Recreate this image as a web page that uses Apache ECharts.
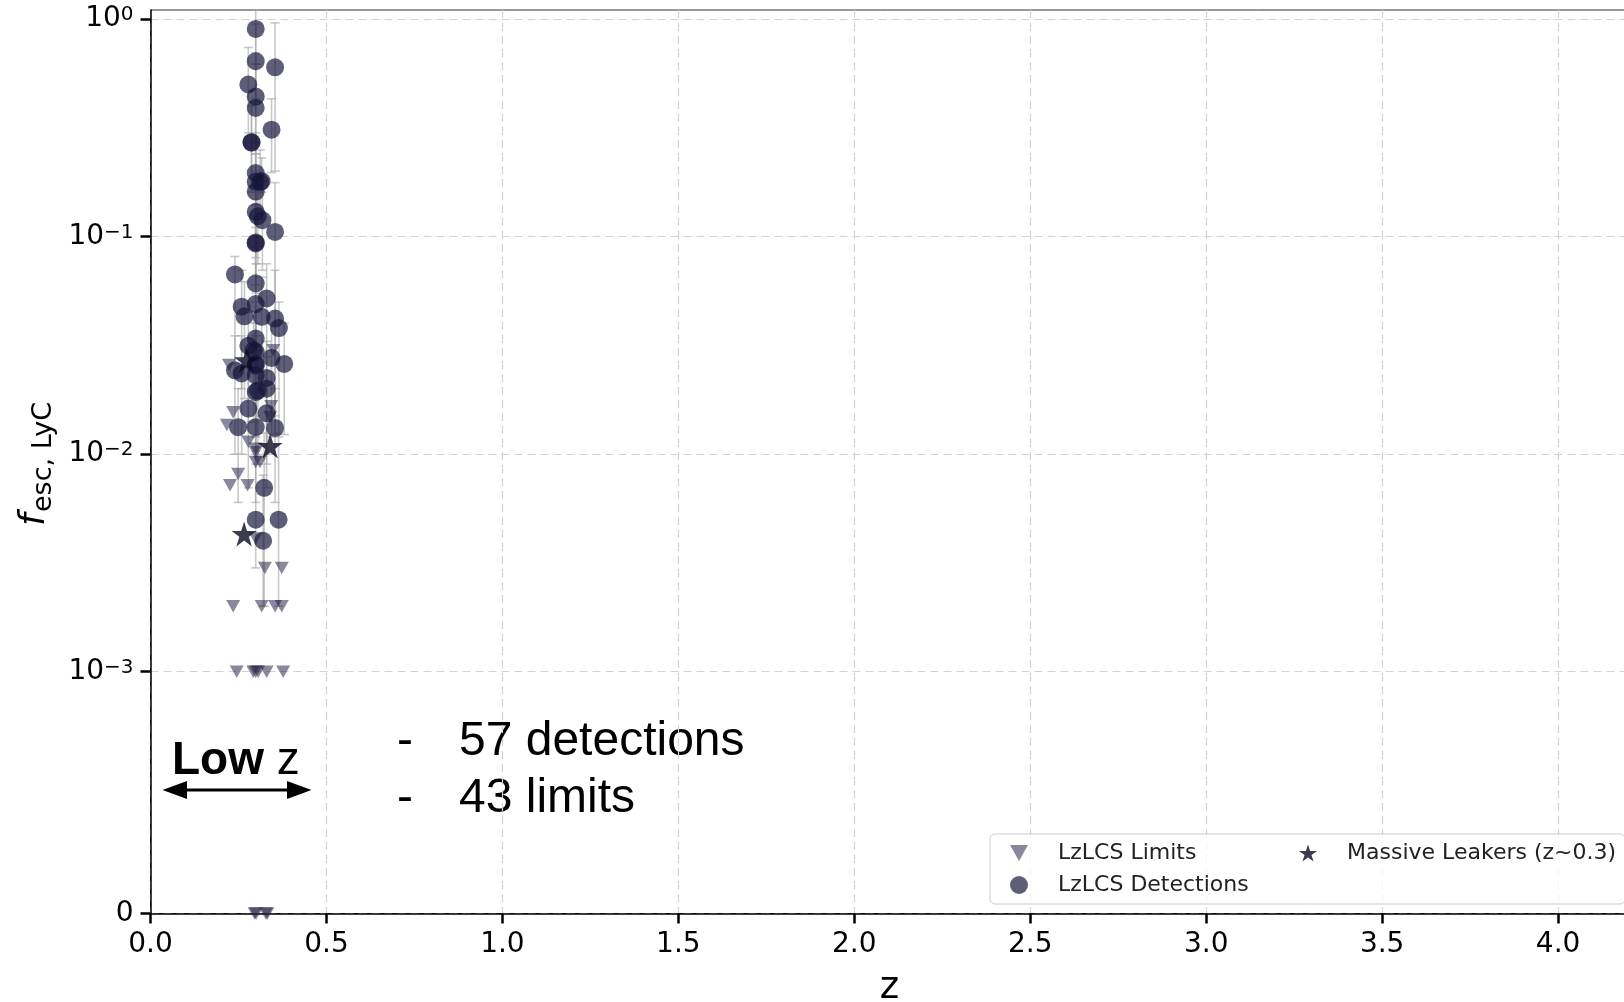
<!DOCTYPE html>
<html>
<head>
<meta charset="utf-8">
<script src="https://cdn.jsdelivr.net/npm/echarts@6/dist/echarts.min.js"></script>
<style>
  html, body { margin: 0; padding: 0; background: #ffffff; }
  #chart { width: 1624px; height: 1002px; }
</style>
</head>
<body>
<div id="chart"></div>
<script>
// LzLCS detections: redshift, escape fraction and error-bar ends
const detZ  = [0.299, 0.299, 0.354, 0.278, 0.299, 0.299, 0.344, 0.287, 0.299, 0.316,
               0.299, 0.299, 0.299, 0.305, 0.318, 0.354, 0.299, 0.240, 0.299, 0.330,
               0.259, 0.299, 0.267, 0.316, 0.354, 0.365, 0.299, 0.278, 0.299, 0.344,
               0.380, 0.299, 0.240, 0.259, 0.299, 0.330, 0.299, 0.330, 0.278, 0.330,
               0.249, 0.299, 0.354, 0.323, 0.299, 0.364, 0.320,
               0.287, 0.312, 0.299, 0.299, 0.293, 0.305];
const detF  = [0.90, 0.64, 0.60, 0.50, 0.44, 0.39, 0.31, 0.27, 0.196, 0.18,
               0.179, 0.161, 0.130, 0.124, 0.119, 0.105, 0.093, 0.067, 0.061, 0.052,
               0.0476, 0.049, 0.043, 0.0428, 0.042, 0.038, 0.034, 0.0315, 0.0295, 0.0277,
               0.026, 0.026, 0.0243, 0.0235, 0.023, 0.0224, 0.0193, 0.020, 0.0162, 0.0154,
               0.0133, 0.0133, 0.0132, 0.0070, 0.0050, 0.0050, 0.0040,
               0.272, 0.178, 0.094, 0.0255, 0.030, 0.0196];
const detLo = [0.62, 0.43, 0.20, 0.30, 0.27, 0.24, 0.197, 0.16, 0.12, 0.16,
               0.11, 0.10, 0.08, 0.075, 0.07, 0.0123, 0.055, 0.026, 0.035, 0.028,
               0.020, 0.028, 0.018, 0.020, 0.015, 0.012, 0.018, 0.014, 0.015, 0.012,
               0.0123, 0.012, 0.010, 0.010, 0.010, 0.010, 0.009, 0.009, 0.007, 0.007,
               0.006, 0.006, 0.006, 0.002, 0.003, 0.002, 0.002,
               0.17, 0.12, 0.06, 0.012, 0.014, 0.009];
const detHi = [1.10, 0.95, 0.96, 0.74, 0.70, 0.62, 0.43, 0.40, 0.30, 0.23,
               0.27, 0.24, 0.20, 0.19, 0.18, 0.177, 0.14, 0.081, 0.09, 0.075,
               0.070, 0.075, 0.062, 0.065, 0.070, 0.050, 0.050, 0.045, 0.045, 0.040,
               0.040, 0.040, 0.035, 0.035, 0.035, 0.033, 0.030, 0.030, 0.025, 0.024,
               0.020, 0.020, 0.020, 0.0125, 0.0103, 0.0125, 0.008,
               0.40, 0.25, 0.14, 0.040, 0.045, 0.030];

// LzLCS upper limits
const limZ = [0.223, 0.349, 0.343, 0.235, 0.217, 0.340, 0.278, 0.299, 0.299, 0.299,
              0.311, 0.249, 0.226, 0.276, 0.299, 0.325, 0.373, 0.235, 0.316, 0.354,
              0.373, 0.245, 0.292, 0.299, 0.306, 0.330, 0.377, 0.296, 0.300, 0.332, 0.328];
const limF = [0.0257, 0.030, 0.0166, 0.0156, 0.0136, 0.0148, 0.0114, 0.0106, 0.0102, 0.0092,
              0.0092, 0.0081, 0.0072, 0.0072, 0.0041, 0.003, 0.003, 0.002, 0.002, 0.002,
              0.002, 0.001, 0.001, 0.001, 0.001, 0.001, 0.001, 0, 0, 0, 0];

// Massive leakers at z~0.3
const leakZ = [0.273, 0.340, 0.266];
const leakF = [0.027, 0.0109, 0.0043];

// axis ticks
const yTickValues = [0, 1e-3, 1e-2, 1e-1, 1];
const yTickExp    = [null, '\u22123', '\u22122', '\u22121', '0'];
const X_MIN = 0, X_MAX = 4.2, X_STEP = 0.5;

// symmetric log scale: linear below 1e-3, one unit per decade above
const LINTHRESH = 1e-3;
const LINSCALE = 1 / (1 - 1 / 10);
function symlog(v) {
  return v <= LINTHRESH ? (v / LINTHRESH) * LINSCALE : LINSCALE + Math.log10(v / LINTHRESH);
}

const TRI_DOWN = 'path://M0,0 L20,0 L10,18 Z';
const STAR = 'path://M50,0 L61.2,34.5 L97.6,34.5 L68.2,55.9 L79.4,90.5 L50,69.1 L20.6,90.5 L31.8,55.9 L2.4,34.5 L38.8,34.5 Z';

const FONT = 'DejaVu Sans';
const yTickPos = yTickValues.map(symlog);

const chart = echarts.init(document.getElementById('chart'), null, { renderer: 'canvas' });

chart.setOption({
  animation: false,
  backgroundColor: '#ffffff',
  grid: {
    left: 150.5, top: 10, width: 1478, height: 903.5,
    outerBoundsMode: 'none', containLabel: false,
    show: true, borderColor: '#333333', borderWidth: 1, backgroundColor: 'transparent'
  },
  xAxis: {
    type: 'value', min: X_MIN, max: X_MAX, interval: X_STEP,
    name: 'z', nameLocation: 'middle', nameGap: 56,
    nameTextStyle: { fontFamily: FONT, fontSize: 37, color: '#000' },
    axisLine: { show: true, onZero: false, lineStyle: { color: '#000', width: 1.5 } },
    axisTick: { show: true, length: 10, lineStyle: { color: '#000', width: 2.5 } },
    axisLabel: {
      fontFamily: FONT, fontSize: 28, color: '#000', margin: 17,
      showMaxLabel: false,
      formatter: v => v.toFixed(1)
    },
    splitLine: { show: true, lineStyle: { type: [8, 5], color: '#d2d2d2', width: 1.2 } }
  },
  yAxis: {
    type: 'value', min: 0, max: symlog(1.1),
    axisLine: { show: true, onZero: false, lineStyle: { color: '#000', width: 1.5 } },
    axisTick: { show: true, length: 10, customValues: yTickPos, lineStyle: { color: '#000', width: 2.5 } },
    axisLabel: {
      customValues: yTickPos, margin: 17, color: '#000',
      formatter: function (v) {
        let idx = 0, best = Infinity;
        yTickPos.forEach((p, i) => { const d = Math.abs(p - v); if (d < best) { best = d; idx = i; } });
        if (yTickExp[idx] === null) return '{z|0}';
        return '{b|10}{e|' + yTickExp[idx] + '}';
      },
      rich: {
        z: { fontFamily: FONT, fontSize: 28, color: '#000' },
        b: { fontFamily: FONT, fontSize: 28, color: '#000', padding: [9, 0, 0, 0], verticalAlign: 'bottom', lineHeight: 28 },
        e: { fontFamily: FONT, fontSize: 20, color: '#000', verticalAlign: 'top', lineHeight: 20 }
      }
    },
    splitLine: { show: true, lineStyle: { type: [8, 5], color: '#d2d2d2', width: 1.2 } }
  },
  legend: {
    orient: 'vertical', left: 990, top: 834, height: 60,
    itemWidth: 18, itemHeight: 18, itemGap: 8,
    padding: [7, 9, 7, 20],
    backgroundColor: 'rgba(255,255,255,0.8)', borderColor: '#cccccc', borderWidth: 1, borderRadius: 5,
    textStyle: { fontFamily: FONT, fontSize: 22, color: '#222', lineHeight: 24, padding: [0, 0, 0, 25], width: 233 },
    data: [
      { name: 'LzLCS Limits', icon: TRI_DOWN },
      { name: 'LzLCS Detections', icon: 'circle' },
      { name: 'Massive Leakers (z~0.3)', icon: STAR, textStyle: { width: 262 } }
    ]
  },
  graphic: [
    // y-axis title
    {
      type: 'group', x: 36, y: 461, rotation: Math.PI / 2,
      children: [
        { type: 'text', x: -65, y: -1, style: { text: 'f', fontFamily: FONT, fontStyle: 'italic', fontSize: 36, fill: '#000', align: 'left', verticalAlign: 'middle' } },
        { type: 'text', x: -51, y: 8, style: { text: 'esc, LyC', fontFamily: FONT, fontSize: 27, fill: '#000', align: 'left', verticalAlign: 'middle' } }
      ]
    },
    // low-z range annotation
    {
      type: 'text', x: 172, y: 761,
      style: {
        text: '{b|Low }{n|z}', align: 'left', verticalAlign: 'middle',
        rich: {
          b: { fontFamily: 'Liberation Sans', fontWeight: 'bold', fontSize: 46, fill: '#000' },
          n: { fontFamily: 'Liberation Sans', fontSize: 46, fill: '#000' }
        }
      }
    },
    { type: 'line', shape: { x1: 172, y1: 790, x2: 302, y2: 790 }, style: { stroke: '#000', lineWidth: 3 } },
    { type: 'polygon', shape: { points: [[162.5, 790], [187, 781], [187, 799]] }, style: { fill: '#000' } },
    { type: 'polygon', shape: { points: [[311.5, 790], [287, 781], [287, 799]] }, style: { fill: '#000' } },
    { type: 'text', x: 397, y: 742, style: { text: '-', fontFamily: 'Liberation Sans', fontSize: 48, fill: '#000', verticalAlign: 'middle' } },
    { type: 'text', x: 459, y: 742, style: { text: '57 detections', fontFamily: 'Liberation Sans', fontSize: 48, fill: '#000', verticalAlign: 'middle' } },
    { type: 'text', x: 397, y: 799, style: { text: '-', fontFamily: 'Liberation Sans', fontSize: 48, fill: '#000', verticalAlign: 'middle' } },
    { type: 'text', x: 459, y: 799, style: { text: '43 limits', fontFamily: 'Liberation Sans', fontSize: 48, fill: '#000', verticalAlign: 'middle' } }
  ],
  series: [
    {
      name: 'errors', type: 'custom', z: 1, silent: true,
      data: detZ.map((z, i) => [z, symlog(detLo[i]), symlog(detHi[i])]),
      encode: { x: 0, y: [1, 2] },
      renderItem: function (params, api) {
        const lo = api.coord([api.value(0), api.value(1)]);
        const hi = api.coord([api.value(0), api.value(2)]);
        const cap = 4.5;
        const style = { stroke: 'rgba(165,165,165,0.6)', lineWidth: 1.6 };
        return {
          type: 'group',
          children: [
            { type: 'line', shape: { x1: lo[0], y1: lo[1], x2: hi[0], y2: hi[1] }, style },
            { type: 'line', shape: { x1: lo[0] - cap, y1: lo[1], x2: lo[0] + cap, y2: lo[1] }, style },
            { type: 'line', shape: { x1: hi[0] - cap, y1: hi[1], x2: hi[0] + cap, y2: hi[1] }, style }
          ]
        };
      }
    },
    {
      name: 'LzLCS Limits', type: 'scatter', z: 2, clip: false,
      symbol: TRI_DOWN, symbolSize: [14, 12.5],
      itemStyle: { color: 'rgba(38,36,72,0.68)' },
      data: limZ.map((z, i) => [z, symlog(limF[i])])
    },
    {
      name: 'LzLCS Detections', type: 'scatter', z: 3, clip: false,
      symbol: 'circle', symbolSize: 18,
      itemStyle: { color: 'rgba(22,20,58,0.86)' },
      data: detZ.map((z, i) => [z, symlog(detF[i])])
    },
    {
      name: 'Massive Leakers (z~0.3)', type: 'scatter', z: 4, clip: false,
      symbol: STAR, symbolSize: 25,
      itemStyle: { color: '#0b0a24' },
      data: leakZ.map((z, i) => [z, symlog(leakF[i])])
    }
  ]
});
</script>
</body>
</html>
